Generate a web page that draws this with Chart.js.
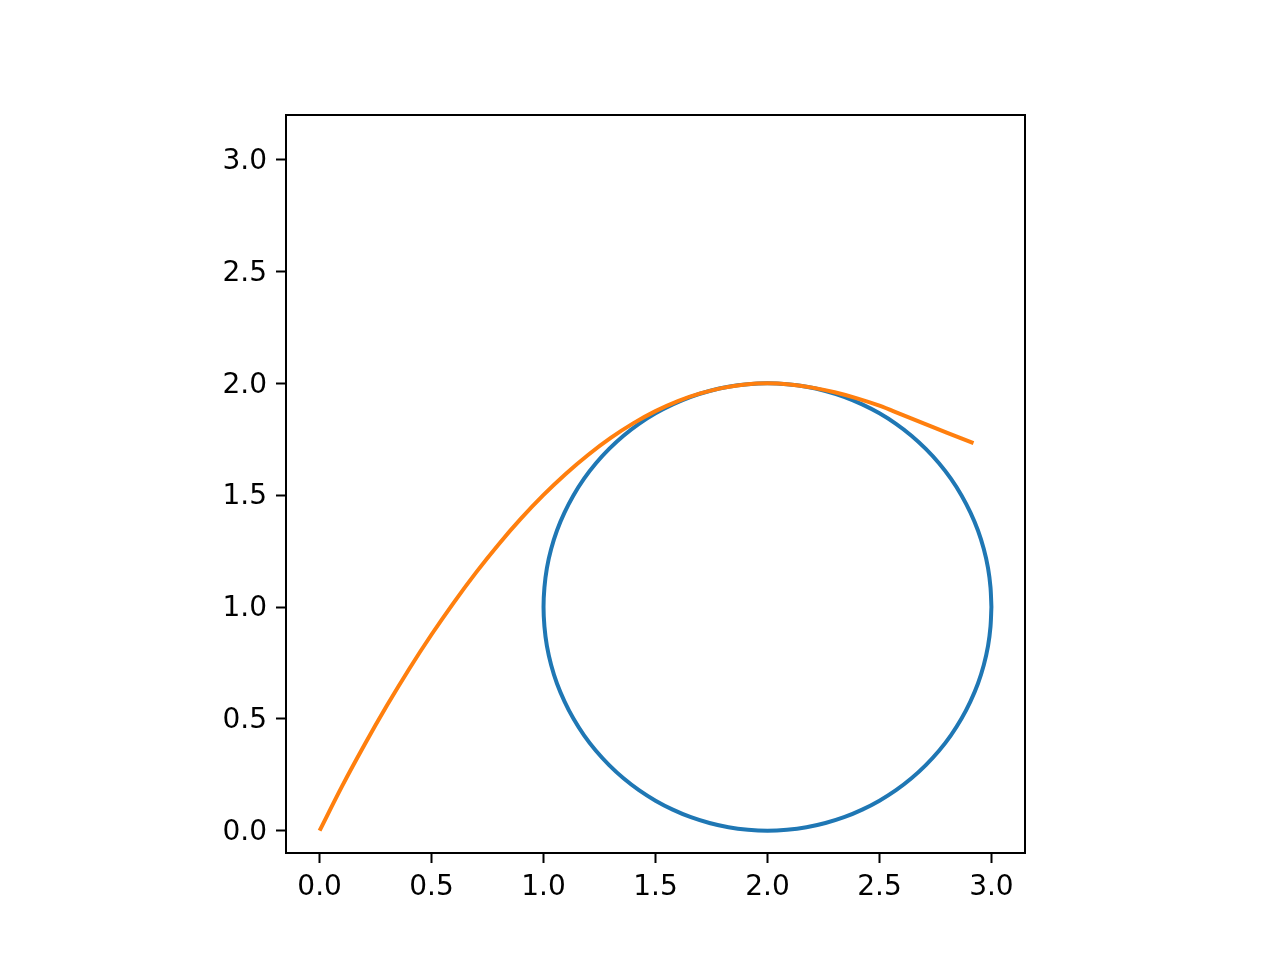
<!DOCTYPE html>
<html>
<head>
<meta charset="utf-8">
<title>Círculo y curva</title>
<script src="https://cdn.jsdelivr.net/npm/chart.js@4/dist/chart.umd.min.js"></script>
<style>
    html, body { margin: 0; padding: 0; background: #ffffff; }
    #chart-box { width: 1280px; height: 960px; }
</style>
</head>
<body>
<div id="chart-box">
    <canvas id="plotChart" width="1280" height="960"></canvas>
</div>
<script>
// --- DATOS ---
// Circulo azul (cada 5 grados)
const circleX = [3.0, 2.996, 2.985, 2.966, 2.94, 2.906, 2.866, 2.819, 2.766, 2.707, 2.643, 2.574, 2.5, 2.423, 2.342, 2.259, 2.174, 2.087, 2.0,
    1.913, 1.826, 1.741, 1.658, 1.577, 1.5, 1.426, 1.357, 1.293, 1.234, 1.181, 1.134, 1.094, 1.06, 1.034, 1.015, 1.004, 1.0,
    1.004, 1.015, 1.034, 1.06, 1.094, 1.134, 1.181, 1.234, 1.293, 1.357, 1.426, 1.5, 1.577, 1.658, 1.741, 1.826, 1.913, 2.0,
    2.087, 2.174, 2.259, 2.342, 2.423, 2.5, 2.574, 2.643, 2.707, 2.766, 2.819, 2.866, 2.906, 2.94, 2.966, 2.985, 2.996, 3.0];
const circleY = [1.0, 1.087, 1.174, 1.259, 1.342, 1.423, 1.5, 1.574, 1.643, 1.707, 1.766, 1.819, 1.866, 1.906, 1.94, 1.966, 1.985, 1.996, 2.0,
    1.996, 1.985, 1.966, 1.94, 1.906, 1.866, 1.819, 1.766, 1.707, 1.643, 1.574, 1.5, 1.423, 1.342, 1.259, 1.174, 1.087, 1.0,
    0.913, 0.826, 0.741, 0.658, 0.577, 0.5, 0.426, 0.357, 0.293, 0.234, 0.181, 0.134, 0.094, 0.06, 0.034, 0.015, 0.004, 0.0,
    0.004, 0.015, 0.034, 0.06, 0.094, 0.134, 0.181, 0.234, 0.293, 0.357, 0.426, 0.5, 0.577, 0.658, 0.741, 0.826, 0.913, 1.0];

// Curva naranja
const curveX = [0.0, 0.1, 0.2, 0.3, 0.4, 0.5, 0.6, 0.7, 0.8, 0.9, 1.0, 1.1, 1.2, 1.3, 1.4, 1.5, 1.6, 1.7, 1.8, 1.9, 2.0,
    2.1, 2.2, 2.3, 2.4, 2.5, 2.6, 2.7, 2.8, 2.92];
const curveY = [0.0, 0.198, 0.383, 0.558, 0.723, 0.877, 1.021, 1.156, 1.281, 1.396, 1.501, 1.596, 1.681, 1.756, 1.821, 1.876, 1.921, 1.955, 1.98, 1.995, 2.0,
    1.995, 1.981, 1.96, 1.933, 1.9, 1.86, 1.82, 1.78, 1.733];

// Marcas de los ejes
const xTicks = [0.0, 0.5, 1.0, 1.5, 2.0, 2.5, 3.0];
const yTicks = [0.0, 0.5, 1.0, 1.5, 2.0, 2.5, 3.0];

function toPoints(xs, ys) {
    return xs.map((x, i) => ({ x: x, y: ys[i] }));
}

// Marco negro alrededor del area del grafico (como los "spines")
const framePlugin = {
    id: 'frame',
    afterDatasetsDraw(chart) {
        const a = chart.chartArea;
        const ctx = chart.ctx;
        ctx.save();
        ctx.strokeStyle = '#000000';
        ctx.lineWidth = 2;
        ctx.strokeRect(a.left, a.top, a.right - a.left, a.bottom - a.top);
        ctx.restore();
    }
};

const tickFont = { family: 'DejaVu Sans', size: 28 };

const axisCommon = {
    type: 'linear',
    border: { display: false },
    grid: {
        display: true,
        drawOnChartArea: false,
        drawTicks: true,
        tickLength: 10,
        tickWidth: 2,
        tickColor: '#000000'
    }
};

const ctx = document.getElementById('plotChart').getContext('2d');
new Chart(ctx, {
    type: 'line',
    data: {
        datasets: [
            {
                label: 'circulo',
                data: toPoints(circleX, circleY),
                borderColor: '#1f77b4',
                borderWidth: 4,
                pointRadius: 0,
                tension: 0.3,
                fill: false,
                order: 1
            },
            {
                label: 'curva',
                data: toPoints(curveX, curveY),
                borderColor: '#ff7f0e',
                borderWidth: 4,
                pointRadius: 0,
                cubicInterpolationMode: 'monotone',
                fill: false,
                order: 0
            }
        ]
    },
    options: {
        responsive: false,
        animation: false,
        devicePixelRatio: 1,
        layout: { padding: { top: 115, right: 255, left: 0, bottom: 0 } },
        plugins: {
            legend: { display: false },
            tooltip: { enabled: false }
        },
        scales: {
            x: {
                ...axisCommon,
                min: -0.15,
                max: 3.15,
                afterBuildTicks: (scale) => { scale.ticks = xTicks.map(v => ({ value: v })); },
                afterFit: (scale) => { scale.height = 107; },
                ticks: {
                    autoSkip: false,
                    maxRotation: 0,
                    padding: 8,
                    color: '#000000',
                    font: tickFont,
                    callback: (v) => Number(v).toFixed(1)
                }
            },
            y: {
                ...axisCommon,
                min: -0.1,
                max: 3.2,
                afterBuildTicks: (scale) => { scale.ticks = yTicks.map(v => ({ value: v })); },
                afterFit: (scale) => { scale.width = 286; },
                ticks: {
                    autoSkip: false,
                    padding: 9,
                    labelOffset: 2,
                    color: '#000000',
                    font: tickFont,
                    callback: (v) => Number(v).toFixed(1)
                }
            }
        }
    },
    plugins: [framePlugin]
});
</script>
</body>
</html>
